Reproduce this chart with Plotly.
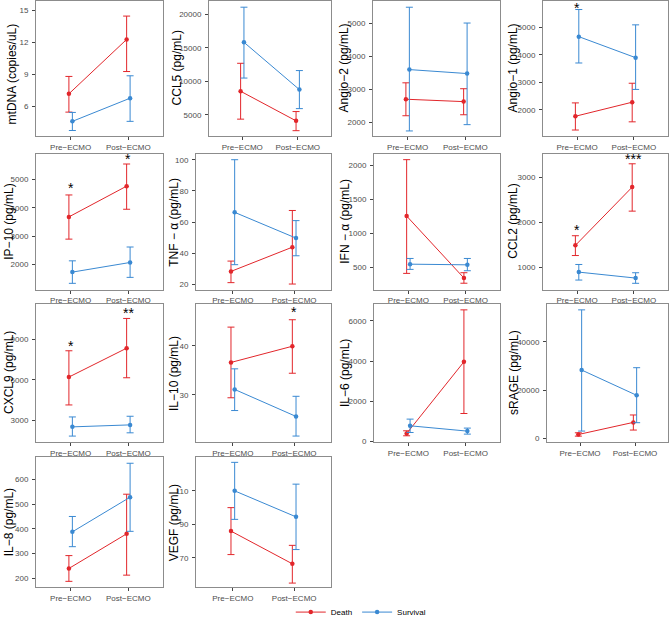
import plotly.graph_objects as go

# ---------------- data ----------------
stages = ["Pre−ECMO", "Post−ECMO"]
groups = ["Death", "Survival"]

markers = ["mtDNA (copies/uL)", "CCL5 (pg/mL)", "Angio−2 (pg/mL)", "Angio−1 (pg/mL)",
           "IP−10 (pg/mL)", "TNF − α (pg/mL)", "IFN − α (pg/mL)", "CCL2 (pg/mL)",
           "CXCL9 (pg/mL)", "IL−10 (pg/mL)", "IL−6 (pg/mL)", "sRAGE (pg/mL)",
           "IL−8 (pg/mL)", "VEGF (pg/mL)"]

death_mean = [[7.16, 12.28], [8519, 4120], [2692, 2620], [1764, 2275],
              [3681, 4768], [28.5, 44.0], [1257, 344], [1490, 2780],
              [6199, 8338], [36.6, 39.9], [398, 3965], [1674, 6695],
              [240, 380], [86, 66.5]]
death_lo = [[5.44, 9.26], [4370, 2654], [2192, 2222], [1264, 1561],
            [2895, 3951], [21.3, 20.4], [412, 267], [1264, 2248],
            [4132, 6147], [29.4, 34.4], [284, 1393], [1004, 3515],
            [188, 213], [72, 55]]
death_hi = [[8.80, 14.48], [12683, 5500], [3189, 3010], [2250, 2964],
            [4456, 5550], [35.1, 67.5], [2088, 422], [1703, 3297],
            [8147, 10544], [43.8, 45.3], [532, 6552], [2385, 9757],
            [292, 540], [100, 77.5]]

surv_mean = [[4.57, 6.75], [15806, 8768], [3590, 3470], [4657, 3893],
             [1730, 2070], [66.3, 49.8], [548, 538], [897, 765],
             [2507, 2654], [31.1, 25.6], [781, 517], [28368, 17908],
             [388, 528], [110, 94.5]]
surv_lo = [[3.71, 4.57], [10484, 5938], [1731, 1922], [3700, 2739],
           [1333, 1544], [32.8, 38.5], [471, 451], [721, 649],
           [1824, 2066], [26.8, 21.6], [448, 368], [3096, 6569],
           [328, 390], [93, 75]]
surv_hi = [[5.41, 8.86], [21026, 11598], [5479, 5000], [5643, 5086],
           [2128, 2617], [100, 61], [632, 632], [1066, 883],
           [3243, 3294], [35.3, 29.7], [1114, 667], [53264, 29331],
           [450, 665], [127, 114]]

y_ticks = [[6, 9, 12, 15], [5000, 10000, 15000, 20000], [2000, 3000, 4000, 5000],
           [2000, 3000, 4000, 5000], [2000, 3000, 4000, 5000], [20, 40, 60, 80, 100],
           [500, 1000, 1500, 2000], [1000, 2000, 3000], [3000, 6000, 9000], [30, 40],
           [0, 2000, 4000, 6000], [0, 20000, 40000], [200, 300, 400, 500, 600],
           [70, 90, 110]]

# significance labels: panel index, stage index, y value, text
star_panel = [3, 4, 4, 7, 7, 8, 8, 9]
star_stage = [0, 0, 1, 0, 1, 0, 1, 1]
star_y = [5811, 4825, 5842, 1905, 3475, 8706, 11162, 47.4]
star_text = ["*", "*", "*", "*", "***", "*", "**", "*"]

# ---------------- layout settings ----------------
W, H = 669, 627
y_ranges = [[3.2, 15.9], [1877, 21950], [1581, 5668], [1050, 5953],
            [1109, 5912], [16.8, 103.8], [172, 2175], [508, 3519],
            [1353, 11647], [20.3, 48.6], [-47, 6866], [-1609, 55877],
            [164, 689], [52.5, 130]]
panel_left = [36, 209, 373, 543, 36, 196, 374, 543, 36, 196, 374, 547, 36, 196]
col_right = [163, 331, 500, 668]
row_span = [(1, 137), (155, 292), (306, 446), (461, 592)]
title_x = [12, 177, 344, 513, 9, 174, 345, 513, 9, 174, 345, 514, 9, 174]
title_yshift = [-6, 0, 0, 0, 0, 0, 0, 0, 0, 0, 0, 0, 0, 0]

colors = {"Death": "#E2262B", "Survival": "#3A89D2"}
dodge = {"Death": -0.03, "Survival": 0.03}
FONT = "Liberation Sans, Arial, Helvetica, sans-serif"
border = "#8C8C8C"

fig = go.Figure()
layout = dict(width=W, height=H, margin=dict(l=0, r=0, t=0, b=0),
              paper_bgcolor="white", plot_bgcolor="white",
              font=dict(family=FONT, color="#333333"),
              showlegend=True)
annotations = []

stats = {"Death": (death_mean, death_lo, death_hi),
         "Survival": (surv_mean, surv_lo, surv_hi)}

for i in range(len(markers)):
    r, c = divmod(i, 4)
    n = "" if i == 0 else str(i + 1)
    top, bot = row_span[r]
    xd = [panel_left[i] / W, col_right[c] / W]
    yd = [1 - bot / H, 1 - top / H]
    layout["xaxis" + n] = dict(
        domain=xd, range=[0.4, 2.6], tickvals=[1, 2], ticktext=stages,
        showline=True, mirror=True, linecolor=border, linewidth=1,
        ticks="outside", ticklen=3, tickcolor="#444444", tickwidth=1,
        tickfont=dict(size=8, color="#4D4D4D", family=FONT),
        showgrid=False, zeroline=False, anchor="y" + n, fixedrange=True)
    layout["yaxis" + n] = dict(
        domain=yd, range=y_ranges[i], tickvals=y_ticks[i], tickformat="d",
        showline=True, mirror=True, linecolor=border, linewidth=1,
        ticks="outside", ticklen=3, tickcolor="#444444", tickwidth=1,
        ticklabelstandoff=2,
        tickfont=dict(size=8, color="#4D4D4D", family=FONT),
        showgrid=False, zeroline=False, anchor="x" + n, fixedrange=True)
    for g in groups:
        m, lo, hi = stats[g]
        xs = [k + 1 + dodge[g] for k in range(len(stages))]
        fig.add_trace(go.Scatter(
            x=xs, y=m[i], mode="lines+markers", name=g, legendgroup=g,
            showlegend=(i == 0),
            line=dict(color=colors[g], width=1),
            marker=dict(color=colors[g], size=4.5, symbol="circle"),
            error_y=dict(type="data", symmetric=False,
                         array=[hi[i][k] - m[i][k] for k in range(2)],
                         arrayminus=[m[i][k] - lo[i][k] for k in range(2)],
                         color=colors[g], thickness=1, width=3.5),
            xaxis="x" + n, yaxis="y" + n, hoverinfo="skip"))
    annotations.append(dict(
        text=markers[i], textangle=-90, xref="paper", yref="paper",
        x=title_x[i] / W, y=(yd[0] + yd[1]) / 2, xanchor="center", yanchor="middle",
        yshift=title_yshift[i],
        showarrow=False, font=dict(size=12, color="black", family=FONT)))

for p, s, yv, t in zip(star_panel, star_stage, star_y, star_text):
    n = "" if p == 0 else str(p + 1)
    annotations.append(dict(
        text=t, x=s + 1, y=yv, xref="x" + n, yref="y" + n,
        xanchor="center", yanchor="middle", yshift=-3, showarrow=False,
        font=dict(size=14, color="black", family=FONT)))

layout["annotations"] = annotations
layout["legend"] = dict(orientation="h", x=0.54, y=1 - 617 / H, xanchor="center",
                        yanchor="middle", font=dict(size=8, color="black", family=FONT),
                        itemwidth=30, bgcolor="rgba(0,0,0,0)", tracegroupgap=0)
fig.update_layout(**layout)
fig.write_html("out.html")
